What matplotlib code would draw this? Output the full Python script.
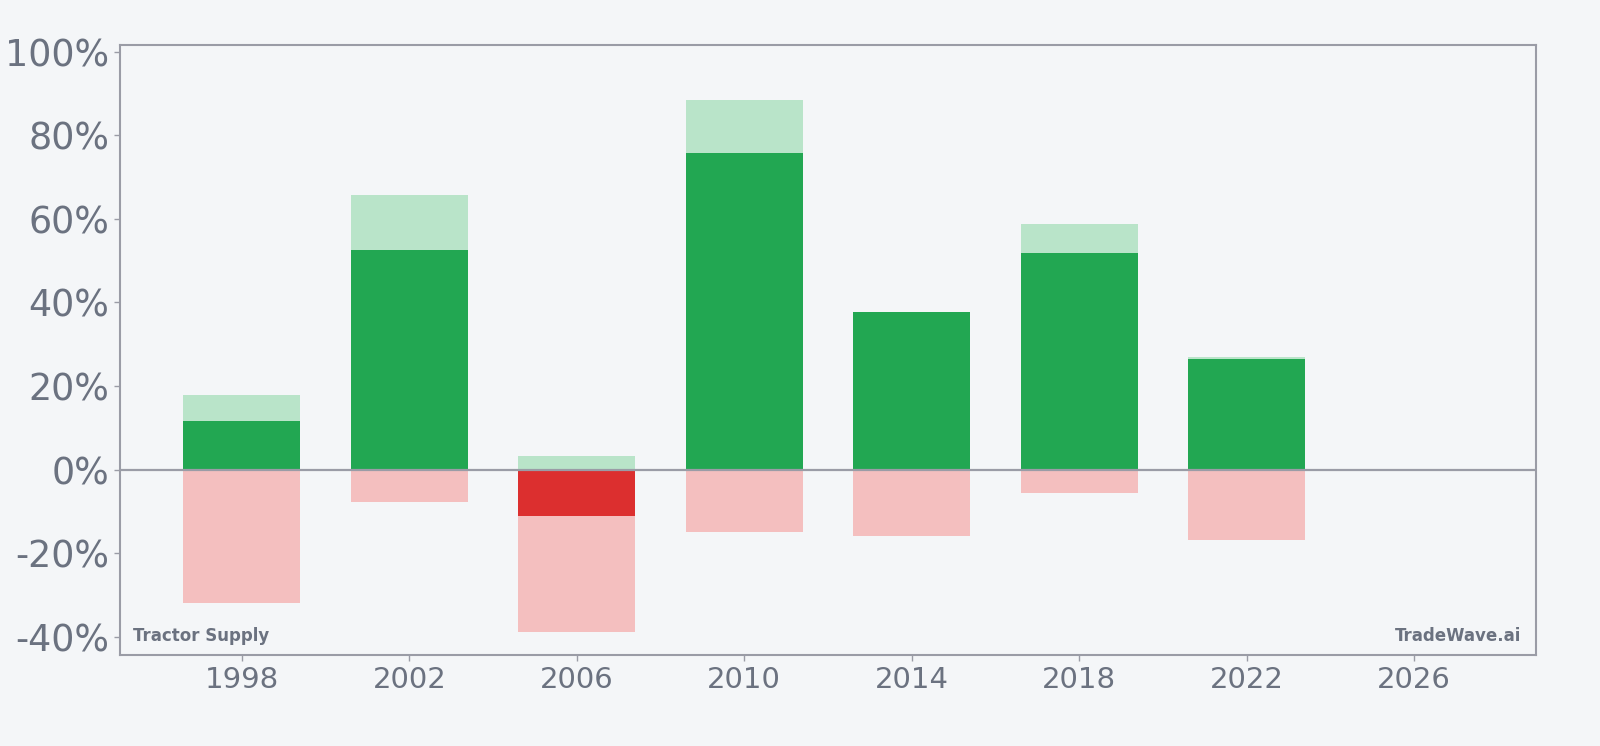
import matplotlib
matplotlib.use("Agg")
import matplotlib.pyplot as plt

years = [1998, 2002, 2006, 2010, 2014, 2018, 2022]
max_gain = [17.8, 65.8, 3.2, 88.5, 37.7, 58.7, 26.9]
close_ret = [11.7, 52.6, -11.2, 75.8, 37.7, 51.8, 26.4]
max_drawdown = [-32.0, -7.8, -38.9, -14.9, -15.9, -5.6, -16.9]
x_ticks = [1998, 2002, 2006, 2010, 2014, 2018, 2022, 2026]
y_ticks = [-40, -20, 0, 20, 40, 60, 80, 100]

BG = "#f4f6f8"
TXT = "#6b7280"
SPINE = "#9a9ca6"
DG = "#22a752"
LG = "#b9e4c9"
DR = "#dc2f2f"
LR = "#f4bfbf"

fig = plt.figure(figsize=(16, 7.46), dpi=100, facecolor=BG)
ax = fig.add_axes([120.4/1600, 1-655.1/746, (1535.7-120.4)/1600, (655.1-44.9)/746])
ax.set_facecolor(BG)

w = 2.8
ax.bar(years, max_gain, width=w, color=LG, zorder=2)
ax.bar(years, max_drawdown, width=w, color=LR, zorder=2)
ax.bar(years, close_ret, width=w, color=[DG if v >= 0 else DR for v in close_ret], zorder=3)
ax.axhline(0, color=SPINE, lw=1.6, zorder=4)

ax.set_xlim(1995.1, 2028.9)
ax.set_ylim(-44.4, 101.6)
ax.set_xticks(x_ticks)
ax.set_xticklabels([str(t) for t in x_ticks])
ax.set_yticks(y_ticks)
ax.set_yticklabels([f"{t}%" for t in y_ticks])
ax.tick_params(axis="y", labelsize=26.3, colors=SPINE, labelcolor=TXT, length=4, width=1, pad=4)
ax.tick_params(axis="x", labelsize=21, colors=SPINE, labelcolor=TXT, length=4, width=1, pad=3.5)
for s in ax.spines.values():
    s.set_color(SPINE)
    s.set_linewidth(1.5)

ax.text(0.009, 0.017, "Tractor Supply", transform=ax.transAxes, fontsize=12,
        fontweight="bold", color=TXT, ha="left", va="bottom")
ax.text(0.99, 0.017, "TradeWave.ai", transform=ax.transAxes, fontsize=12,
        fontweight="bold", color=TXT, ha="right", va="bottom")

fig.savefig("out.png", dpi=100, facecolor=BG)
